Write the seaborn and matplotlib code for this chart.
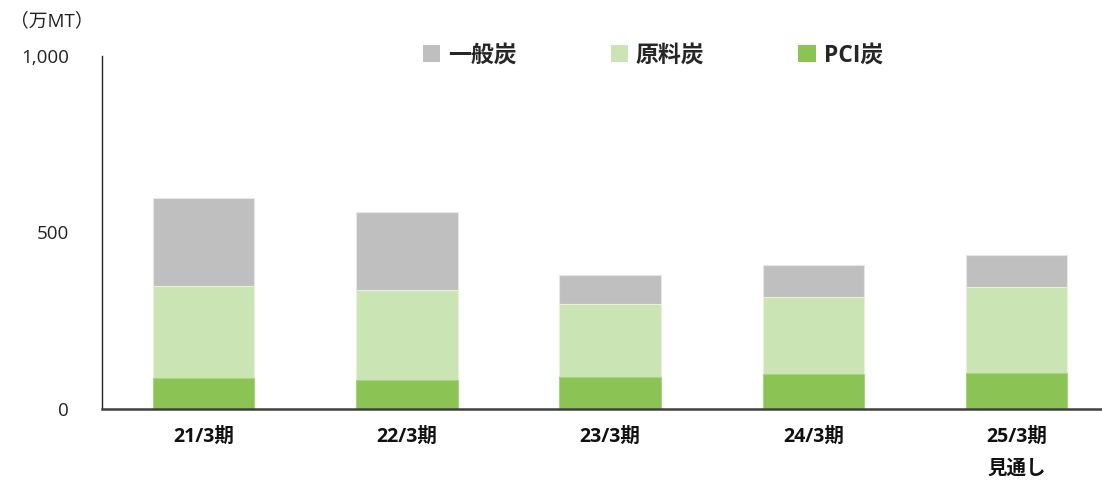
import pandas as pd
import matplotlib.pyplot as plt
import seaborn as sns
from matplotlib.patches import Patch

# data (万MT)
periods = ["21/3期", "22/3期", "23/3期", "24/3期", "25/3期\n見通し"]
pci = [88, 82, 91, 99, 102]
coking = [260, 255, 206, 218, 244]
thermal = [250, 221, 83, 91, 90]

series_names = ["一般炭", "原料炭", "PCI炭"]
colors = {"一般炭": "#BFBFBF", "原料炭": "#CBE4B4", "PCI炭": "#8BC455"}

df = pd.DataFrame({"period": periods, "pci": pci, "coking": coking, "thermal": thermal})
df["lvl_pci"] = df["pci"]
df["lvl_coking"] = df["pci"] + df["coking"]
df["lvl_total"] = df["lvl_coking"] + df["thermal"]

sns.set_style("white")
plt.rcParams['font.family'] = ['Open Sans', 'Noto Sans CJK JP', 'DejaVu Sans']

fig = plt.figure(figsize=(11.02, 4.82), dpi=100)
ax = fig.add_axes([0.0926, 0.1515, 0.9074, 0.7323])

# stack by drawing cumulative totals from the top down
sns.barplot(data=df, x="period", y="lvl_total", color=colors["一般炭"], width=0.5,
            saturation=1, ax=ax, edgecolor="#E6E6E6", linewidth=0.8)
sns.barplot(data=df, x="period", y="lvl_coking", color=colors["原料炭"], width=0.5,
            saturation=1, ax=ax, edgecolor="#E6F0DC", linewidth=0.8)
sns.barplot(data=df, x="period", y="lvl_pci", color=colors["PCI炭"], width=0.5,
            saturation=1, ax=ax, edgecolor="#A8D383", linewidth=0.8)

ax.set_ylim(0, 1000)
ax.set_xlim(-0.5, 4.42)
ax.set_yticks([0, 500, 1000])
ax.set_yticklabels(["0", "500", "1,000"], fontsize=13.5, color="#222222")
ax.set_xticks(range(len(periods)))
ax.set_xticklabels(periods, fontsize=14, fontweight="bold", color="#111111", linespacing=1.75)
ax.tick_params(axis="both", length=0)
ax.tick_params(axis="x", pad=13)
ax.tick_params(axis="y", pad=24)
ax.set_xlabel("")
ax.set_ylabel("")
ax.grid(False)

for side in ["top", "right"]:
    ax.spines[side].set_visible(False)
ax.spines["left"].set_color("#222222")
ax.spines["left"].set_linewidth(1.0)
ax.spines["bottom"].set_color("#404040")
ax.spines["bottom"].set_linewidth(1.8)

fig.text(0.009, 0.955, "（万MT）", fontsize=13.5, color="#222222", va="center", ha="left")

handles = [Patch(facecolor=colors[n], edgecolor="none") for n in series_names]
fig.legend(handles, series_names, loc="center", bbox_to_anchor=(0.5925, 0.885), ncol=3,
           frameon=False, prop={"size": 16.5, "weight": "bold"}, handlelength=0.75,
           handleheight=0.75, handletextpad=0.35, columnspacing=4.1)

fig.savefig("out.png", dpi=100)
